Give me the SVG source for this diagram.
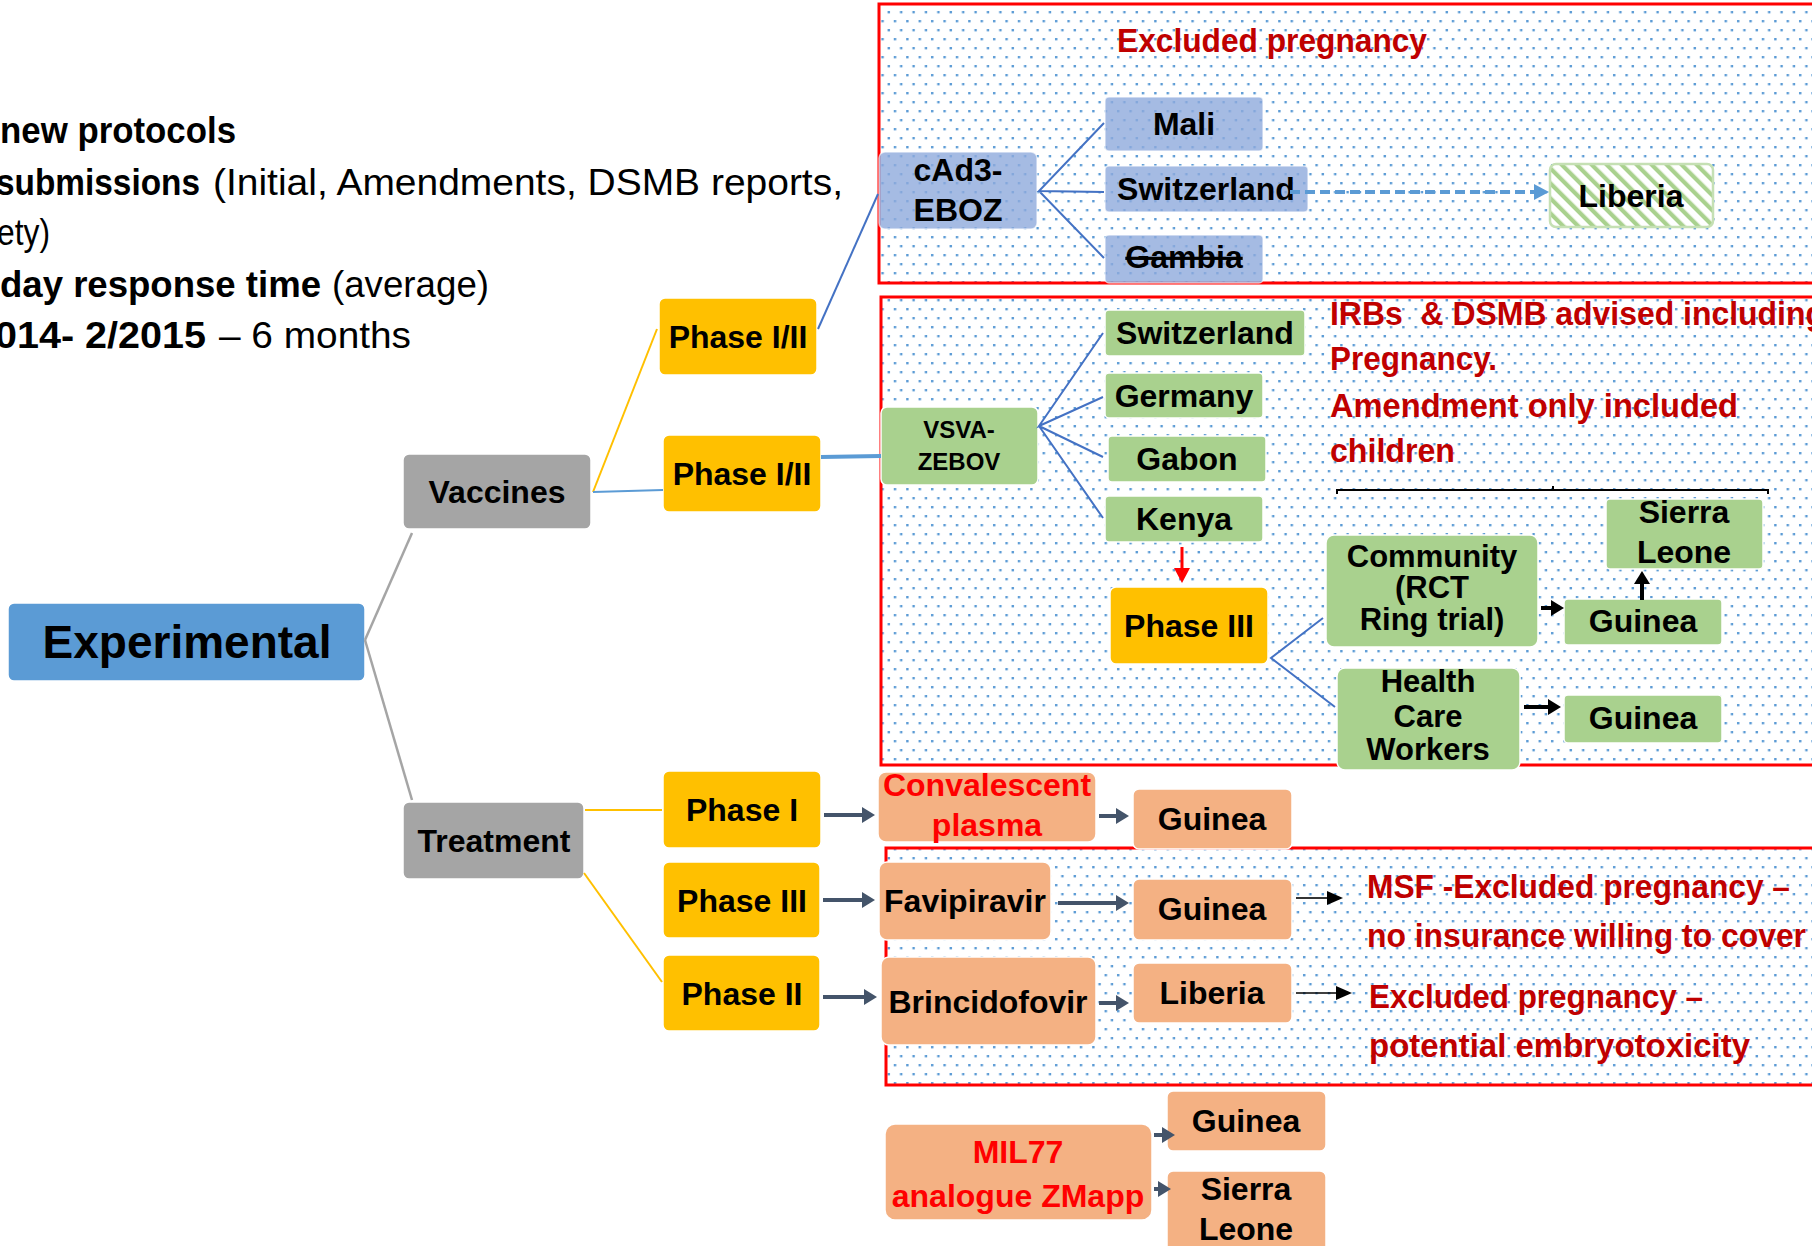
<svg xmlns="http://www.w3.org/2000/svg" width="1812" height="1246" viewBox="0 0 1812 1246">
<defs>
<pattern id="dots" width="12.4" height="18" patternUnits="userSpaceOnUse">
<rect x="1" y="2" width="2.4" height="2.4" fill="#5B9BD5"/>
<rect x="7.2" y="11" width="2.4" height="2.4" fill="#5B9BD5"/>
</pattern>
<pattern id="hatch" width="10.6" height="10.6" patternUnits="userSpaceOnUse" patternTransform="rotate(-45)">
<rect x="0" y="0" width="10.6" height="10.6" fill="#FFFFFF"/>
<rect x="0" y="0" width="4.2" height="10.6" fill="#A9D18E"/>
</pattern>
<marker id="aDark" markerUnits="userSpaceOnUse" markerWidth="14" markerHeight="16" refX="1" refY="8" orient="auto"><path d="M0,0 L13,8 L0,16 z" fill="#44546A"/></marker>
<marker id="aBlack" markerUnits="userSpaceOnUse" markerWidth="14" markerHeight="16" refX="1" refY="8" orient="auto"><path d="M0,0 L13,8 L0,16 z" fill="#000"/></marker>
<marker id="aThin" markerUnits="userSpaceOnUse" markerWidth="17" markerHeight="14" refX="1" refY="7" orient="auto"><path d="M0,0 L16,7 L0,14 z" fill="#000"/></marker>
<marker id="aRed" markerUnits="userSpaceOnUse" markerWidth="16" markerHeight="16" refX="1" refY="8" orient="auto"><path d="M0,0 L15,8 L0,16 z" fill="#FF0000"/></marker>
<marker id="aBlue" markerUnits="userSpaceOnUse" markerWidth="16" markerHeight="16" refX="1" refY="8" orient="auto"><path d="M0,0 L15,8 L0,16 z" fill="#5B9BD5"/></marker>
</defs>
<style>
text{font-family:"Liberation Sans",Arial,sans-serif;}
.n text{font-weight:bold;font-size:32px;text-anchor:middle;fill:#000;}
.hb{font-weight:bold;font-size:36px;fill:#000;}
.hr{font-size:36px;fill:#000;}
.rt{font-weight:bold;font-size:34px;fill:#C00000;}
.frame{fill:url(#dots);stroke:#FF0000;stroke-width:3;}
.blue rect{fill:#8FAADC;fill-opacity:0.8;stroke:#FFFFFF;stroke-opacity:0.6;stroke-width:1.5;}
.green rect{fill:#A9D18E;stroke:#FFFFFF;stroke-width:1.5;}
.yel rect{fill:#FFC000;stroke:#FFFFFF;stroke-width:1.5;}
.gray rect{fill:#A5A5A5;stroke:#FFFFFF;stroke-width:1.5;}
.sal rect{fill:#F4B183;stroke:#FFFFFF;stroke-width:1.5;}
.n text.red{fill:#FF0000;}
.n text.tight{font-size:31px;}
.cb{stroke:#4472C4;stroke-width:2;fill:none;}
.cy{stroke:#FFC000;stroke-width:2;fill:none;}
.cg{stroke:#A5A5A5;stroke-width:2.5;fill:none;}
.cd{stroke:#44546A;stroke-width:4;fill:none;marker-end:url(#aDark);}
.ck{stroke:#000;stroke-width:4;fill:none;marker-end:url(#aBlack);}
.ct{stroke:#000;stroke-width:1.6;fill:none;marker-end:url(#aThin);}
</style>
<rect x="0" y="0" width="1812" height="1246" fill="#FFFFFF"/>

<g id="header">
<text class="hb" x="0" y="143" textLength="236" lengthAdjust="spacingAndGlyphs">new protocols</text>
<text class="hb" x="-4" y="195" textLength="204" lengthAdjust="spacingAndGlyphs">submissions</text>
<text class="hr" x="213" y="195" textLength="630" lengthAdjust="spacingAndGlyphs">(Initial, Amendments, DSMB reports,</text>
<text class="hr" x="-3" y="245" textLength="53" lengthAdjust="spacingAndGlyphs">ety)</text>
<text class="hb" x="0" y="297" textLength="321" lengthAdjust="spacingAndGlyphs">day response time</text>
<text class="hr" x="332" y="297" textLength="157" lengthAdjust="spacingAndGlyphs">(average)</text>
<text class="hb" x="-5" y="348" textLength="211" lengthAdjust="spacingAndGlyphs">014- 2/2015</text>
<text class="hr" x="219" y="348" textLength="192" lengthAdjust="spacingAndGlyphs">– 6 months</text>
</g>

<g id="frames">
<rect class="frame" x="879" y="4" width="1000" height="279"/>
<rect class="frame" x="881" y="297" width="1000" height="468"/>
<rect class="frame" x="886" y="848" width="1000" height="237"/>
</g>

<g id="notes">
<text class="rt" x="1117" y="52" textLength="310" lengthAdjust="spacingAndGlyphs">Excluded pregnancy</text>
<text class="rt" x="1330" y="325" textLength="495" lengthAdjust="spacingAndGlyphs">IRBs&#160; &amp; DSMB advised including</text>
<text class="rt" x="1330" y="370" textLength="167" lengthAdjust="spacingAndGlyphs">Pregnancy.</text>
<text class="rt" x="1330" y="417" textLength="408" lengthAdjust="spacingAndGlyphs">Amendment only included</text>
<text class="rt" x="1330" y="462" textLength="125" lengthAdjust="spacingAndGlyphs">children</text>
<text class="rt" x="1367" y="898" textLength="423" lengthAdjust="spacingAndGlyphs">MSF -Excluded pregnancy –</text>
<text class="rt" x="1367" y="947" textLength="439" lengthAdjust="spacingAndGlyphs">no insurance willing to cover</text>
<text class="rt" x="1369" y="1008" textLength="334" lengthAdjust="spacingAndGlyphs">Excluded pregnancy –</text>
<text class="rt" x="1369" y="1057" textLength="381" lengthAdjust="spacingAndGlyphs">potential embryotoxicity</text>
<path d="M1337,494 V490 H1768 V494 M1553,490 V486" stroke="#000" stroke-width="2" fill="none"/>
</g>

<g id="experimental" class="n"><rect x="8" y="603" width="357" height="78" rx="6" fill="#5B9BD5" stroke="#FFFFFF" stroke-width="1.5"/><text x="187" y="658" style="font-size:46px">Experimental</text></g>
<g id="vaccines" class="n gray"><rect x="403" y="454" width="188" height="75" rx="6"/><text x="497" y="503">Vaccines</text></g>
<g id="treatment" class="n gray"><rect x="403" y="802" width="181" height="77" rx="6"/><text x="494" y="852">Treatment</text></g>
<g id="phase12a" class="n yel"><rect x="659" y="298" width="158" height="77" rx="6"/><text x="738" y="348">Phase I/II</text></g>
<g id="phase12b" class="n yel"><rect x="663" y="435" width="158" height="77" rx="6"/><text x="742" y="485">Phase I/II</text></g>
<g id="phase1" class="n yel"><rect x="663" y="771" width="158" height="77" rx="6"/><text x="742" y="821">Phase I</text></g>
<g id="phase3t" class="n yel"><rect x="663" y="862" width="157" height="76" rx="6"/><text x="742" y="912">Phase III</text></g>
<g id="phase2" class="n yel"><rect x="663" y="955" width="157" height="76" rx="6"/><text x="742" y="1005">Phase II</text></g>

<g id="cad3" class="n blue"><rect x="879" y="152" width="158" height="77" rx="6"/><text x="958" y="181">cAd3-</text><text x="958" y="221">EBOZ</text></g>
<g id="mali" class="n blue"><rect x="1105" y="97" width="158" height="54" rx="4"/><text x="1184" y="135">Mali</text></g>
<g id="switz1" class="n blue"><rect x="1105" y="166" width="203" height="46" rx="4"/><text x="1206" y="200">Switzerland</text></g>
<g id="gambia" class="n blue"><rect x="1105" y="235" width="158" height="48" rx="4"/><text x="1184" y="268" text-decoration="line-through" style="text-decoration:line-through">Gambia</text></g>
<g id="liberia1" class="n"><rect x="1550" y="164" width="163" height="63" rx="6" fill="url(#hatch)" stroke="#C5E0B4" stroke-width="2.5"/><text x="1631" y="207">Liberia</text></g>

<g id="vsva" class="n green"><rect x="881" y="407" width="157" height="78" rx="6"/><text x="959" y="438" style="font-size:24px">VSVA-</text><text x="959" y="470" style="font-size:24px">ZEBOV</text></g>
<g id="switz2" class="n green"><rect x="1105" y="310" width="200" height="46" rx="4"/><text x="1205" y="344">Switzerland</text></g>
<g id="germany" class="n green"><rect x="1105" y="373" width="158" height="45" rx="4"/><text x="1184" y="407">Germany</text></g>
<g id="gabon" class="n green"><rect x="1108" y="436" width="158" height="46" rx="4"/><text x="1187" y="470">Gabon</text></g>
<g id="kenya" class="n green"><rect x="1105" y="496" width="158" height="46" rx="4"/><text x="1184" y="530">Kenya</text></g>
<g id="phase3v" class="n yel"><rect x="1110" y="587" width="158" height="77" rx="6"/><text x="1189" y="637">Phase III</text></g>
<g id="community" class="n green"><rect x="1326" y="535" width="212" height="112" rx="8"/><text class="tight" x="1432" y="567">Community</text><text class="tight" x="1432" y="598">(RCT</text><text class="tight" x="1432" y="630">Ring trial)</text></g>
<g id="sierra1" class="n green"><rect x="1606" y="499" width="157" height="70" rx="4"/><text x="1684" y="523">Sierra</text><text x="1684" y="563">Leone</text></g>
<g id="guinea1" class="n green"><rect x="1564" y="599" width="158" height="46" rx="4"/><text x="1643" y="632">Guinea</text></g>
<g id="hcw" class="n green"><rect x="1337" y="668" width="183" height="102" rx="8"/><text class="tight" x="1428" y="692">Health</text><text class="tight" x="1428" y="727">Care</text><text class="tight" x="1428" y="760">Workers</text></g>
<g id="guinea2" class="n green"><rect x="1564" y="695" width="158" height="48" rx="4"/><text x="1643" y="729">Guinea</text></g>

<g id="plasma" class="n sal"><rect x="878" y="772" width="218" height="70" rx="8"/><text class="red" x="987" y="796">Convalescent</text><text class="red" x="987" y="836">plasma</text></g>
<g id="guinea3" class="n sal"><rect x="1133" y="789" width="159" height="60" rx="6"/><text x="1212" y="830">Guinea</text></g>
<g id="favipiravir" class="n sal"><rect x="879" y="862" width="172" height="78" rx="8"/><text x="965" y="912">Favipiravir</text></g>
<g id="guinea4" class="n sal"><rect x="1133" y="879" width="159" height="61" rx="6"/><text x="1212" y="920">Guinea</text></g>
<g id="brincidofovir" class="n sal"><rect x="881" y="957" width="215" height="88" rx="8"/><text x="988" y="1013">Brincidofovir</text></g>
<g id="liberia2" class="n sal"><rect x="1133" y="963" width="159" height="60" rx="6"/><text x="1212" y="1004">Liberia</text></g>
<g id="mil77" class="n sal"><rect x="885" y="1124" width="267" height="96" rx="10"/><text class="red" x="1018" y="1163">MIL77</text><text class="red" x="1018" y="1207">analogue ZMapp</text></g>
<g id="guinea5" class="n sal"><rect x="1167" y="1091" width="159" height="60" rx="6"/><text x="1246" y="1132">Guinea</text></g>
<g id="sierra2" class="n sal"><rect x="1167" y="1171" width="159" height="90" rx="6"/><text x="1246" y="1200">Sierra</text><text x="1246" y="1240">Leone</text></g>

<g id="connectors">
<line class="cg" x1="365" y1="640" x2="412" y2="533"/>
<line class="cg" x1="365" y1="640" x2="412" y2="800"/>
<line class="cy" x1="593" y1="492" x2="657" y2="329"/>
<line x1="593" y1="492" x2="663" y2="490" stroke="#5B9BD5" stroke-width="2"/>
<line class="cy" x1="585" y1="810" x2="662" y2="810"/>
<line class="cy" x1="584" y1="873" x2="662" y2="982"/>
<line class="cb" x1="818" y1="329" x2="878" y2="194"/>
<line x1="821" y1="457" x2="881" y2="456" stroke="#5B9BD5" stroke-width="4"/>
<path class="cb" d="M1104,123 L1039,191 L1104,192 M1039,191 L1104,258"/>
<path class="cb" d="M1103,333 L1039,426 L1103,397 M1039,426 L1103,457 M1039,426 L1103,518"/>
<path class="cb" d="M1323,618 L1271,658 L1335,707"/>
<line x1="1290" y1="192" x2="1535" y2="192" stroke="#5B9BD5" stroke-width="4" stroke-dasharray="10 5" marker-end="url(#aBlue)"/>
<line x1="1182" y1="547" x2="1182" y2="569" stroke="#FF0000" stroke-width="3" marker-end="url(#aRed)"/>
<line class="ck" x1="1541" y1="608" x2="1552" y2="608"/>
<line class="ck" x1="1642" y1="600" x2="1642" y2="583"/>
<line class="ck" x1="1524" y1="707" x2="1549" y2="707"/>
<line class="cd" x1="824" y1="815" x2="863" y2="815"/>
<line class="cd" x1="1099" y1="816" x2="1117" y2="816"/>
<line class="cd" x1="823" y1="900" x2="863" y2="900"/>
<line class="cd" x1="1058" y1="903" x2="1117" y2="903"/>
<line class="cd" x1="823" y1="997" x2="865" y2="997"/>
<line class="cd" x1="1099" y1="1003" x2="1117" y2="1003"/>
<line class="cd" x1="1154" y1="1135" x2="1163" y2="1135"/>
<line class="cd" x1="1154" y1="1189" x2="1159" y2="1189"/>
<line class="ct" x1="1296" y1="898" x2="1328" y2="898"/>
<line class="ct" x1="1296" y1="993" x2="1337" y2="993"/>
</g>
</svg>
